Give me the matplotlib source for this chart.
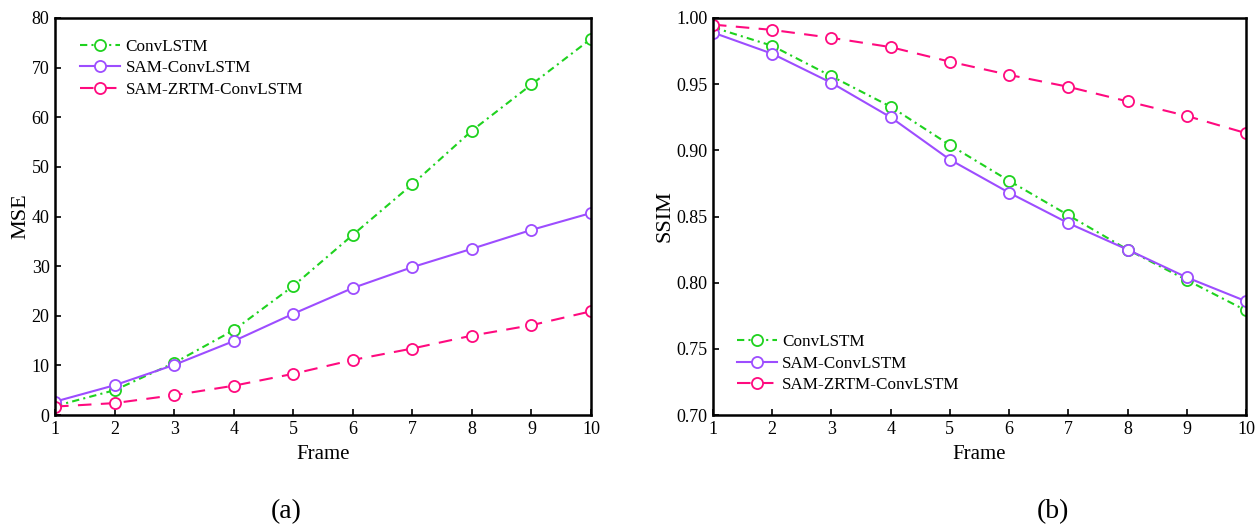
import numpy as np
import matplotlib.pyplot as plt

plt.rcParams['font.family'] = ['Liberation Serif', 'DejaVu Serif']

frames = np.arange(1, 11)
labels = ['ConvLSTM', 'SAM-ConvLSTM', 'SAM-ZRTM-ConvLSTM']

mse_conv = [1.8, 5.0, 10.5, 17.1, 26.0, 36.3, 46.5, 57.3, 66.6, 75.8]
mse_sam = [2.7, 6.0, 10.1, 14.9, 20.4, 25.6, 29.8, 33.5, 37.3, 40.7]
mse_zrtm = [1.7, 2.4, 4.0, 5.9, 8.3, 11.1, 13.4, 16.0, 18.1, 20.9]

ssim_conv = [0.993, 0.979, 0.956, 0.933, 0.904, 0.877, 0.851, 0.825, 0.802, 0.779]
ssim_sam = [0.989, 0.973, 0.951, 0.925, 0.893, 0.868, 0.845, 0.825, 0.804, 0.786]
ssim_zrtm = [0.995, 0.991, 0.985, 0.978, 0.967, 0.957, 0.948, 0.937, 0.926, 0.913]

colors = ['#1fd21f', '#9d4dff', '#ff0a7f']
styles = [(0, (3.5, 2, 1, 2)), '-', (0, (6.5, 4.5))]

fig = plt.figure(figsize=(12.57, 5.26), dpi=100)
ax1 = fig.add_axes([0.0438, 0.211, 0.4264, 0.7548])
ax2 = fig.add_axes([0.5672, 0.211, 0.4240, 0.7548])


def draw(ax, series, ylim, yticks, ylabel, legend_loc, legend_anchor):
    for y, c, ls, lab in zip(series, colors, styles, labels):
        ax.plot(frames, y, color=c, linestyle=ls, linewidth=1.5,
                marker='o', markersize=8, markerfacecolor='white',
                markeredgecolor=c, markeredgewidth=1.3, label=lab)
    ax.set_xlim(1, 10)
    ax.set_ylim(*ylim)
    ax.set_xticks(frames)
    ax.set_yticks(yticks)
    ax.tick_params(direction='in', length=4, width=1.2, labelsize=13, pad=4)
    for s in ax.spines.values():
        s.set_linewidth(1.8)
    ax.set_xlabel('Frame', fontsize=15, labelpad=5)
    ax.set_ylabel(ylabel, fontsize=16, labelpad=1)
    ax.legend(loc=legend_loc, bbox_to_anchor=legend_anchor, frameon=False,
              fontsize=12.3, handlelength=2.35, handletextpad=0.3,
              labelspacing=0.32, borderpad=0, borderaxespad=0)


draw(ax1, [mse_conv, mse_sam, mse_zrtm], (0, 80), np.arange(0, 81, 10),
     'MSE', 'upper left', (0.047, 0.948))
ax1.set_yticklabels([str(v) for v in range(0, 81, 10)])
draw(ax2, [ssim_conv, ssim_sam, ssim_zrtm], (0.70, 1.00),
     np.arange(0.70, 1.001, 0.05), 'SSIM', 'lower left', (0.045, 0.055))
ax2.set_yticklabels(['%.2f' % v for v in np.arange(0.70, 1.001, 0.05)])

fig.text(0.2275, 0.015, '(a)', ha='center', fontsize=20)
fig.text(0.838, 0.015, '(b)', ha='center', fontsize=20)

fig.savefig('out.png', dpi=100)
